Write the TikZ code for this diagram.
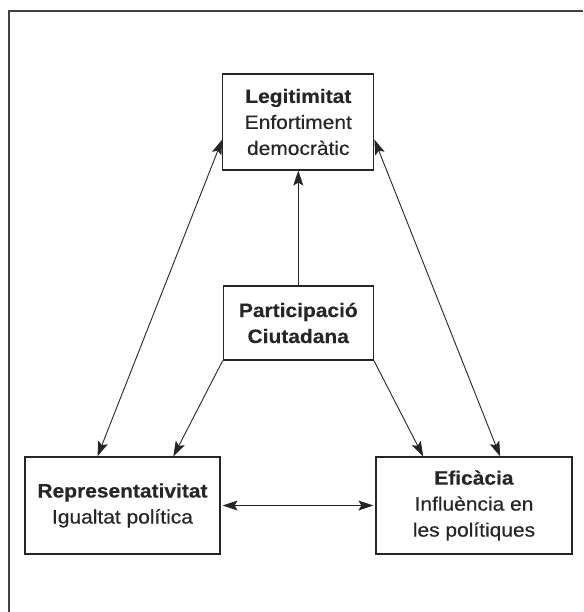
\documentclass[tikz,border=0pt]{standalone}
\usepackage{fontspec}
\setmainfont{Liberation Sans}[FakeStretch=1.08,FakeBold=0.4,BoldFeatures={FakeBold=0.3}]
\usetikzlibrary{arrows.meta}
\begin{document}
\begin{tikzpicture}[x=1pt,y=-1pt,
  box/.style={draw=black!85,line width=1.2pt,rectangle,align=center,inner sep=0pt,
    font=\fontsize{19.4}{26}\selectfont,text=black!85},
  link/.style={draw=black!85,line width=0.9pt},
  tip/.style={-{Stealth[length=15pt,width=10pt,inset=3pt]}},
  tips/.style={{Stealth[length=15pt,width=10pt,inset=3pt]}-{Stealth[length=15pt,width=10pt,inset=3pt]}}]
\useasboundingbox (0,0) rectangle (583,612);
\fill[white] (0,0) rectangle (583,612);
\draw[line width=1.5pt,black!75] (583,11) -- (9,11) -- (9,612);

\node[box,minimum width=151pt,minimum height=96pt] (legit) at (298.3,122)
  {\textbf{Legitimitat}\\Enfortiment\\democràtic};
\node[box,minimum width=150pt,minimum height=74pt] (part) at (298.3,323)
  {\textbf{Participació}\\\textbf{Ciutadana}};
\node[box,minimum width=195pt,minimum height=97pt] (rep) at (122.5,505.5)
  {\textbf{Representativitat}\\Igualtat política};
\node[box,minimum width=196pt,minimum height=97pt] (eff) at (474,505.5)
  {\textbf{Eficàcia}\\Influència en\\les polítiques};

\draw[link,tip] (part.north) -- (legit.south);
\draw[link,tip] (part.south west) -- (rep.44);
\draw[link,tip] (part.south east) -- (eff.136);
\draw[link,tips] (rep.117) -- (legit.193);
\draw[link,tips] (eff.62) -- (legit.-13);
\draw[link,tips,shorten <=2pt,shorten >=2pt] (rep.east) -- (eff.west);
\end{tikzpicture}
\end{document}
